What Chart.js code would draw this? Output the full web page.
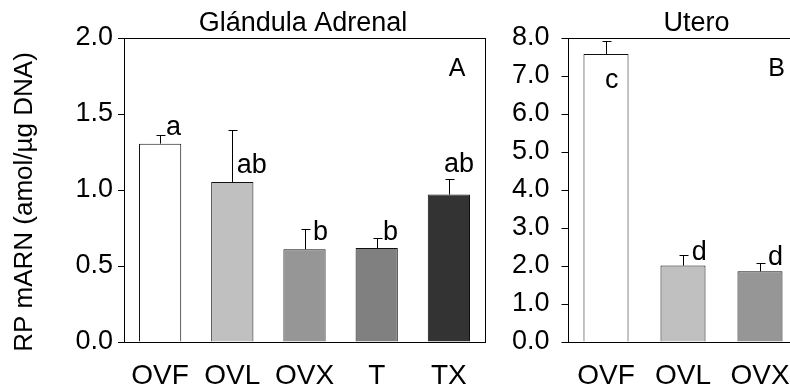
<!DOCTYPE html>
<html>
<head>
<meta charset="utf-8">
<script src="https://cdn.jsdelivr.net/npm/chart.js@4.4.0/dist/chart.umd.min.js"></script>
<style>
  html, body { margin: 0; padding: 0; background: #fff; overflow: hidden; }
  body { width: 790px; height: 390px; position: relative; }
  canvas { position: absolute; top: 0; }
  #chartA { left: 0; }
  #chartB { left: 470px; }
</style>
</head>
<body>
<canvas id="chartA" width="490" height="390"></canvas>
<canvas id="chartB" width="340" height="390"></canvas>
<script>
// Panel A - adrenal gland
const adrenalGroups = ["OVF", "OVL", "OVX", "T", "TX"];
const adrenalMeans = [1.305, 1.053, 0.61, 0.618, 0.97];
const adrenalErrors = [0.055, 0.34, 0.136, 0.066, 0.10];
const adrenalLetters = ["a", "ab", "b", "b", "ab"];
const adrenalTicks = [0.0, 0.5, 1.0, 1.5, 2.0];

// Panel B - uterus
const uteroGroups = ["OVF", "OVL", "OVX"];
const uteroMeans = [7.58, 2.01, 1.86];
const uteroErrors = [0.35, 0.29, 0.23];
const uteroLetters = ["c", "d", "d"];
const uteroTicks = [0.0, 1.0, 2.0, 3.0, 4.0, 5.0, 6.0, 7.0, 8.0];

const SANS = "'Liberation Sans', Arial, Helvetica, sans-serif";

// frame, error bars, letters and titles
const panelDecor = {
  id: "panelDecor",
  afterDatasetsDraw(chart, args, opts) {
    const { ctx, chartArea: area } = chart;
    const yScale = chart.scales.y;
    const meta = chart.getDatasetMeta(0);
    const values = chart.data.datasets[0].data;
    ctx.save();
    ctx.strokeStyle = "#000";
    ctx.lineWidth = 1;

    // upper error bars
    meta.data.forEach((bar, i) => {
      const x = Math.round(bar.x) + 0.5;
      const yTop = yScale.getPixelForValue(values[i]);
      const yErr = Math.round(yScale.getPixelForValue(values[i] + opts.errors[i])) + 0.5;
      ctx.beginPath();
      ctx.moveTo(x, yTop);
      ctx.lineTo(x, yErr);
      ctx.moveTo(x - 4, yErr);
      ctx.lineTo(x + 5, yErr);
      ctx.stroke();
    });

    // significance letters
    ctx.fillStyle = "#000";
    ctx.font = "27px " + SANS;
    ctx.textAlign = "left";
    ctx.textBaseline = "alphabetic";
    meta.data.forEach((bar, i) => {
      const yErr = yScale.getPixelForValue(values[i] + opts.errors[i]);
      const [dx, dy] = opts.letterOffsets[i];
      ctx.fillText(opts.letters[i], bar.x + dx, yErr + dy);
    });

    // box around the plot area
    const l = Math.round(area.left) + 0.5, t = Math.round(area.top) + 0.5;
    const r = Math.round(area.right) + 0.5, b = Math.round(area.bottom) + 0.5;
    ctx.strokeRect(l, t, r - l, b - t);

    // panel title and letter
    ctx.textAlign = "center";
    ctx.font = "27px " + SANS;
    ctx.fillText(opts.title, (area.left + area.right) / 2 + opts.titleDx, 31);
    ctx.font = "25px " + SANS;
    ctx.fillText(opts.tag, area.right + opts.tagDx, 76);

    // y axis title
    if (opts.yTitle) {
      ctx.translate(25, 202);
      ctx.rotate(-Math.PI / 2);
      ctx.textBaseline = "middle";
      ctx.font = "26px " + SANS;
      ctx.fillText(opts.yTitle, 0, 0);
    }
    ctx.restore();
  },
};

function makePanel(canvasId, groups, means, colors, yMax, ticks, axisWidth, tickPad, padRight, decor) {
  return new Chart(document.getElementById(canvasId), {
    type: "bar",
    data: {
      labels: groups,
      datasets: [
        {
          data: means,
          backgroundColor: colors,
          borderColor: "#111",
          borderWidth: 1,
          borderSkipped: "bottom",
          barPercentage: 0.585,
          categoryPercentage: 1.0,
        },
      ],
    },
    options: {
      responsive: false,
      animation: false,
      layout: { padding: { top: 38, right: padRight, left: 0, bottom: 0 } },
      plugins: {
        legend: { display: false },
        tooltip: { enabled: false },
        panelDecor: decor,
      },
      scales: {
        x: {
          grid: { display: false, drawTicks: false },
          border: { display: false },
          ticks: {
            color: "#000",
            padding: 17,
            font: { family: SANS, size: 28 },
            maxRotation: 0,
          },
          afterFit(scale) { scale.height = 48; },
        },
        y: {
          min: 0,
          max: yMax,
          grid: {
            display: true,
            drawOnChartArea: false,
            drawTicks: true,
            tickLength: 6,
            color: "#000",
            lineWidth: 1,
          },
          border: { display: false },
          afterBuildTicks(scale) {
            scale.ticks = ticks.map((v) => ({ value: v }));
          },
          ticks: {
            color: "#000",
            padding: tickPad,
            font: { family: SANS, size: 27 },
            callback: (v) => Number(v).toFixed(1),
          },
          afterFit(scale) { scale.width = axisWidth; },
        },
      },
    },
    plugins: [panelDecor],
  });
}

makePanel(
  "chartA", adrenalGroups, adrenalMeans,
  ["#ffffff", "#c0c0c0", "#969696", "#808080", "#333333"],
  2.0, adrenalTicks, 124, 5, 5,
  {
    errors: adrenalErrors,
    letters: adrenalLetters,
    letterOffsets: [[6, 0], [4.5, 42.7], [8.5, 11.7], [6.3, 2.3], [-4.9, -7.6]],
    title: "Glándula Adrenal",
    titleDx: -1.5,
    tag: "A",
    tagDx: -28,
    yTitle: "RP mARN (amol/µg DNA)",
  }
);

makePanel(
  "chartB", uteroGroups, uteroMeans,
  ["#ffffff", "#c0c0c0", "#969696"],
  8.0, uteroTicks, 97.5, 12, 11.5,
  {
    errors: uteroErrors,
    letters: uteroLetters,
    letterOffsets: [[-1, 47.6], [8.7, 5], [8, 2.7]],
    title: "Utero",
    titleDx: 13.5,
    tag: "B",
    tagDx: -22,
    yTitle: null,
  }
);
</script>
</body>
</html>
